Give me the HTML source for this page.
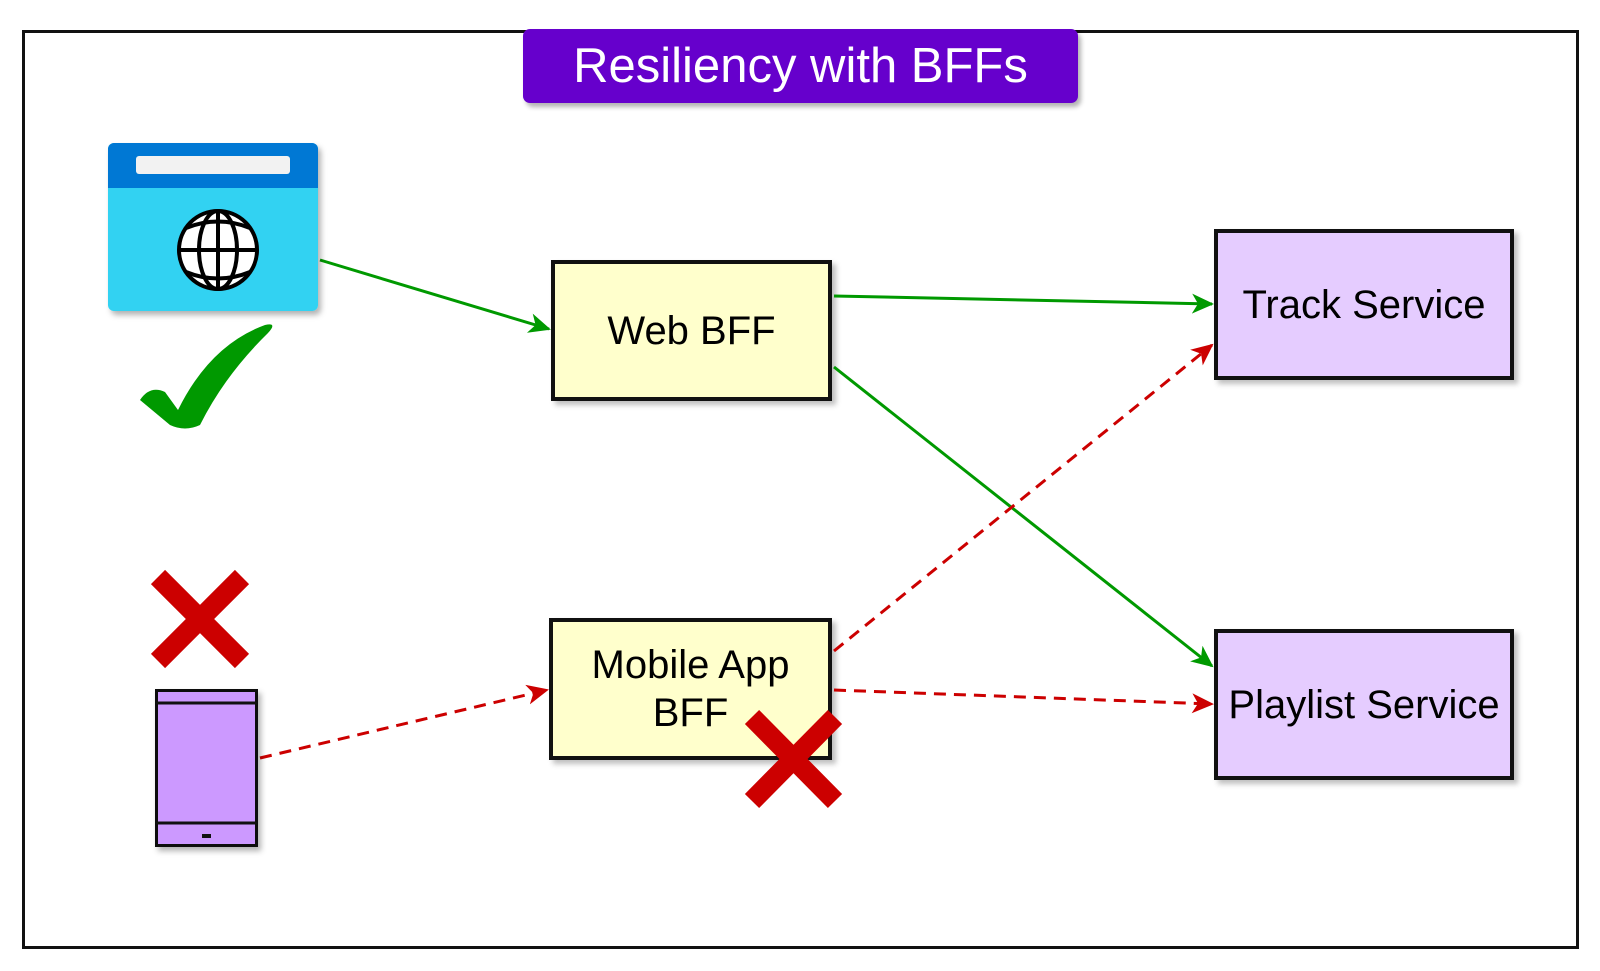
<!DOCTYPE html>
<html><head><meta charset="utf-8"><style>
html,body{margin:0;padding:0;background:#fff;}
body{width:1600px;height:971px;position:relative;overflow:hidden;font-family:"Liberation Sans",sans-serif;}
.b{position:absolute;box-sizing:border-box;border:4px solid #111;display:flex;align-items:center;justify-content:center;text-align:center;font-size:40px;line-height:48px;color:#000;box-shadow:4px 4px 5px rgba(0,0,0,0.25);white-space:nowrap;}
</style></head><body>
<div style="position:absolute;left:22px;top:30px;width:1557px;height:919px;box-sizing:border-box;border:3px solid #111;"></div>
<div style="position:absolute;left:523px;top:29px;width:555px;height:74px;background:#6600cc;border-radius:7px;box-shadow:3px 4px 5px rgba(0,0,0,0.3);color:#fff;font-size:49px;display:flex;align-items:center;justify-content:center;">Resiliency with BFFs</div>
<div class="b" style="left:551px;top:260px;width:281px;height:141px;background:#ffffcc;">Web BFF</div>
<div class="b" style="left:549px;top:618px;width:283px;height:142px;background:#ffffcc;">Mobile App<br>BFF</div>
<div class="b" style="left:1214px;top:229px;width:300px;height:151px;background:#e5ccff;">Track Service</div>
<div class="b" style="left:1214px;top:629px;width:300px;height:151px;background:#e5ccff;">Playlist Service</div>
<svg width="1600" height="971" style="position:absolute;left:0;top:0">
<defs>
<marker id="r" markerWidth="30" markerHeight="30" refX="20" refY="10" orient="auto" markerUnits="userSpaceOnUse"><path d="M0,0 L22,10 L0,20 L6,10z" fill="#cc0000"/></marker>
<marker id="gg" markerWidth="30" markerHeight="30" refX="20" refY="10" orient="auto" markerUnits="userSpaceOnUse"><path d="M0,0 L22,10 L0,20 L6,10z" fill="#009900"/></marker>
<filter id="sh"><feDropShadow dx="3" dy="4" stdDeviation="3" flood-opacity="0.3"/></filter>
</defs>
<g stroke-width="3" fill="none">
<line x1="320" y1="260" x2="549" y2="329" stroke="#009900" marker-end="url(#gg)"/>
<line x1="834" y1="296" x2="1212" y2="304" stroke="#009900" marker-end="url(#gg)"/>
<line x1="834" y1="367" x2="1212" y2="666" stroke="#009900" marker-end="url(#gg)"/>
<line x1="834" y1="651" x2="1212" y2="345" stroke="#cc0000" stroke-dasharray="12,8" marker-end="url(#r)"/>
<line x1="834" y1="690" x2="1212" y2="704" stroke="#cc0000" stroke-dasharray="12,8" marker-end="url(#r)"/>
<line x1="260" y1="758" x2="547" y2="690" stroke="#cc0000" stroke-dasharray="12,8" marker-end="url(#r)"/>
</g>
<g filter="url(#sh)">
<rect x="108" y="143" width="210" height="168" rx="6" fill="#31d2f2"/>
</g>
<path d="M114,143 H312 a6,6 0 0 1 6,6 V188 H108 V149 a6,6 0 0 1 6,-6z" fill="#0078d4"/>
<rect x="136" y="156" width="154" height="18" rx="3" fill="#f2f2f2"/>
<g stroke="#000" stroke-width="4" fill="#fff">
<circle cx="218" cy="250" r="39"/>
<ellipse cx="218" cy="250" rx="19" ry="39" fill="none"/>
<line x1="218" y1="211" x2="218" y2="289"/>
<line x1="179" y1="250" x2="257" y2="250"/>
<path d="M186,228 Q218,215 250,228" fill="none"/>
<path d="M186,272 Q218,285 250,272" fill="none"/>
</g>
<path d="M140,400 Q150,385 165,392 L178,410 Q210,345 265,325 Q278,322 268,333 Q225,375 200,425 Q185,432 170,425 Z" fill="#009900"/>
<g stroke="#cc0000" stroke-width="20">
<line x1="158" y1="577" x2="242" y2="661"/><line x1="242" y1="577" x2="158" y2="661"/>
<line x1="752" y1="717" x2="835" y2="801"/><line x1="835" y1="717" x2="752" y2="801"/>
</g>
<g filter="url(#sh)"><rect x="156.5" y="690.5" width="100" height="155" fill="#cc99ff" stroke="#111" stroke-width="3"/></g>
<line x1="156" y1="703" x2="257" y2="703" stroke="#111" stroke-width="3"/>
<line x1="156" y1="823" x2="257" y2="823" stroke="#111" stroke-width="3"/>
<rect x="202" y="834" width="9" height="4" fill="#111"/>
</svg>
</body></html>
